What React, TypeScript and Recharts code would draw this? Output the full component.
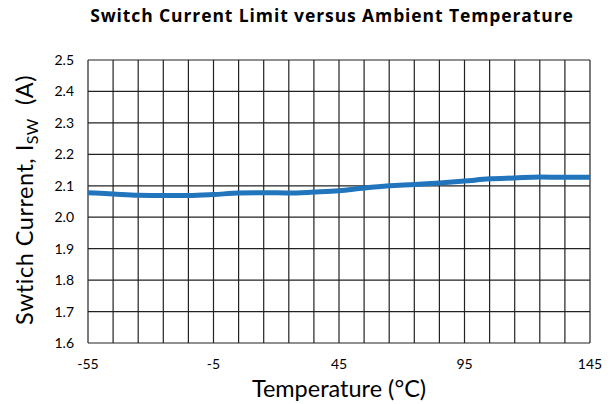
import React from "react";
import { LineChart, Line, XAxis, YAxis, CartesianGrid } from "recharts";

const temps = [-55, -45, -35, -25, -15, -5, 5, 15, 25, 35, 45, 55, 65, 75, 85, 95, 105, 115, 125, 135, 145];
const current = [2.078, 2.074, 2.07, 2.069, 2.069, 2.072, 2.077, 2.078, 2.077, 2.08, 2.084, 2.093, 2.1, 2.104, 2.109, 2.115, 2.122, 2.125, 2.128, 2.127, 2.127];

const xTicks = [-55, -45, -35, -25, -15, -5, 5, 15, 25, 35, 45, 55, 65, 75, 85, 95, 105, 115, 125, 135, 145];
const xLabels = [-55, -5, 45, 95, 145];
const yTicks = [1.6, 1.7, 1.8, 1.9, 2.0, 2.1, 2.2, 2.3, 2.4, 2.5];

const data = temps.map((t, i) => ({ t, v: current[i] }));

const font = "Lato, 'Open Sans', sans-serif";

export default function App() {
  return (
    <div style={{ position: "absolute", left: 0, top: 0, width: 613, height: 404, background: "#fff" }}>
      <svg style={{ position: "absolute", left: 0, top: 0 }} width={613} height={404}>
        <text
          x={332}
          y={22}
          textAnchor="middle"
          fontFamily="'Open Sans', sans-serif"
          fontWeight={700}
          fontSize={17.5}
          letterSpacing={0.9}
          fill="#000"
        >
          Switch Current Limit versus Ambient Temperature
        </text>
        <text
          transform="translate(33,200) rotate(-90)"
          textAnchor="middle"
          fontFamily={font}
          fontSize={23.5}
          letterSpacing={0.5}
          fill="#000"
        >
          Swtich Current, I<tspan fontSize={16} dy={5}>SW</tspan>
          <tspan dy={-5}>{"\u00a0\u00a0(A)"}</tspan>
        </text>
      </svg>
      <div style={{ position: "absolute", left: 0, top: 0 }}>
        <LineChart width={613} height={404} data={data} margin={{ top: 60, right: 23, left: 0, bottom: 0 }}>
          <CartesianGrid stroke="#222" strokeWidth={1.2} />
          <XAxis
            dataKey="t"
            type="number"
            domain={[-55, 145]}
            ticks={xTicks}
            interval={0}
            tickFormatter={(v: number) => (xLabels.includes(v) ? String(v) : "")}
            axisLine={false}
            tickLine={false}
            height={61}
            tick={{ fontSize: 14, fill: "#000", fontFamily: font }}
            tickMargin={10}
            label={{ value: "Temperature (°C)", position: "insideBottom", offset: 7, fontSize: 23.5, fill: "#000", fontFamily: font }}
          />
          <YAxis
            type="number"
            domain={[1.6, 2.5]}
            ticks={yTicks}
            interval={0}
            tickFormatter={(v: number) => v.toFixed(1)}
            axisLine={false}
            tickLine={false}
            width={88}
            tick={{ fontSize: 14, fill: "#000", fontFamily: font }}
            tickMargin={8}
          />
          <Line
            type="monotone"
            dataKey="v"
            stroke="#2175BC"
            strokeWidth={5}
            dot={false}
            isAnimationActive={false}
          />
        </LineChart>
      </div>
    </div>
  );
}
